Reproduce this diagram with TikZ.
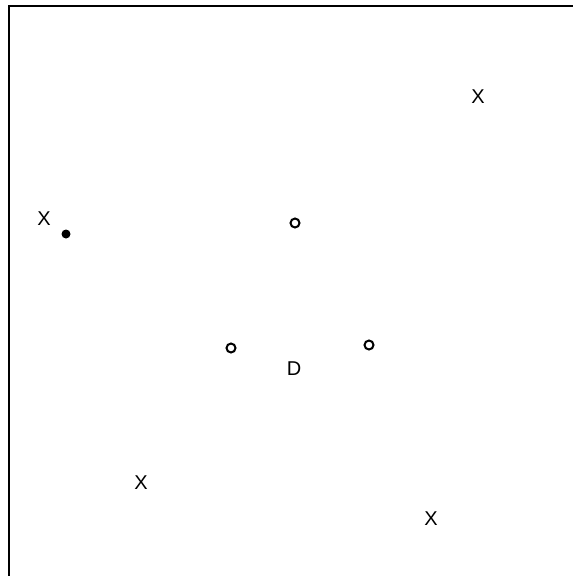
\documentclass[tikz,border=0pt]{standalone}
\usepackage{fontspec}
\setmainfont{Liberation Sans}
\usepackage{tikz}
\usetikzlibrary{positioning}
\tikzset{
  site/.style={inner sep=0pt, font=\fontsize{20}{24}\selectfont},
  hole/.style={circle, draw, line width=2pt, minimum size=9pt, inner sep=0pt},
  spot/.style={circle, fill, minimum size=9pt, inner sep=0pt}
}

\begin{document}
\begin{tikzpicture}[x=1pt, y=-1pt, line width=2.4pt]
\useasboundingbox (0,0) rectangle (573,576);
% the frame: only its top and left sides show
\draw (9,576) -- (9,6) -- (573,6);
% the four sites
\node[site] (xa) at (44,219) {X};
\node[site] (xb) at (478,97) {X};
\node[site] (xc) at (141,483) {X};
\node[site] (xd) at (431,519) {X};
\node[spot] (p) at (66,234) {};
% the three open points round D
\node[hole] (ha) at (295,223) {};
\node[hole] (hb) at (231,348) {};
\node[hole] (hc) at (369,345) {};
\node[site] (d) at (294,369) {D};
\end{tikzpicture}
\end{document}
